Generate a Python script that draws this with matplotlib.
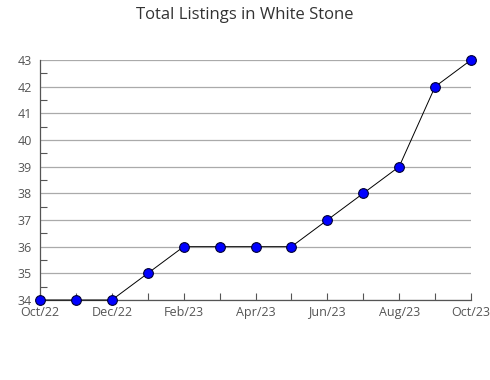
import matplotlib as mpl
mpl.use('Agg')
import matplotlib.pyplot as plt
from matplotlib.ticker import MultipleLocator

months = ["Oct/22", "Nov/22", "Dec/22", "Jan/23", "Feb/23", "Mar/23", "Apr/23",
          "May/23", "Jun/23", "Jul/23", "Aug/23", "Sep/23", "Oct/23"]
listings = [34, 34, 34, 35, 36, 36, 36, 36, 37, 38, 39, 42, 43]

plt.rcParams['font.family'] = ['Open Sans', 'DejaVu Sans']

fig = plt.figure(figsize=(4.9, 3.8), dpi=100)
ax = fig.add_axes([40 / 490, 1 - 300 / 380, 431 / 490, 240 / 380])

x = list(range(len(months)))
ax.plot(x, listings, color="black", linewidth=0.7, marker="o", markersize=7,
        markerfacecolor="#0000ff", markeredgecolor="#000033", markeredgewidth=0.8,
        clip_on=False, zorder=3)

ax.set_xlim(0, len(months) - 1)
ax.set_ylim(34, 43)
ax.set_xticks(x)
ax.set_xticklabels([m if i % 2 == 0 else "" for i, m in enumerate(months)])
ax.yaxis.set_major_locator(MultipleLocator(1))
ax.yaxis.set_minor_locator(MultipleLocator(0.5))
ax.grid(axis="y", which="major", color="#aaaaaa", linewidth=0.9)
ax.set_axisbelow(True)

for s in ("top", "right"):
    ax.spines[s].set_visible(False)
for s in ("left", "bottom"):
    ax.spines[s].set_color("#555555")
    ax.spines[s].set_linewidth(0.9)

ax.tick_params(axis="x", direction="in", length=5, width=0.8, color="#555555",
               labelsize=9, labelcolor="#555555", pad=4)
ax.tick_params(axis="y", which="both", direction="in", length=5, width=0.8,
               color="#555555", labelsize=9, labelcolor="#555555", pad=6)
ax.tick_params(axis="y", which="major", length=0)

fig.suptitle("Total Listings in White Stone", y=1 - 15 / 380, fontsize=12,
             color="#333333", va="center")

fig.savefig("out.png", dpi=100)
